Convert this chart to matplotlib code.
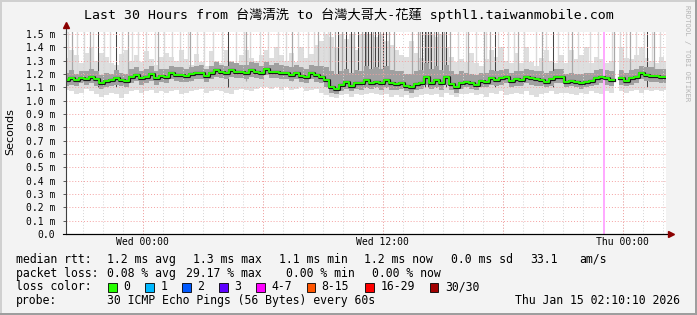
import numpy as np
import matplotlib.pyplot as plt
from matplotlib.patches import Rectangle

W, H = 697, 315

# 15 minute slots over the last 30 hours, values in ms
median = [1.155, 1.168, 1.155, 1.173, 1.16, 1.18, 1.16, 1.135, 1.15, 1.155, 1.168, 1.155, 1.15, 1.18, 1.193, 1.168, 1.18, 1.2, 1.168, 1.185,
          1.18, 1.205, 1.193, 1.193, 1.185, 1.198, 1.205, 1.205, 1.185, 1.205, 1.23, 1.218, 1.205, 1.23, 1.218, 1.218, 1.21, 1.23, 1.218, 1.205,
          1.235, 1.218, 1.218, 1.21, 1.205, 1.193, 1.21, 1.185, 1.18, 1.205, 1.193, 1.18, 1.155, 1.1, 1.085, 1.118, 1.143, 1.11, 1.135, 1.13,
          1.155, 1.135, 1.143, 1.13, 1.155, 1.13, 1.125, 1.13, 1.11, 1.105, 1.125, 1.135, 1.18, 1.135, 1.155, 1.13, 1.18, 1.125, 1.105, 1.13,
          1.143, 1.135, 1.118, 1.15, 1.143, 1.168, 1.155, 1.168, 1.18, 1.15, 1.16, 1.155, 1.18, 1.168, 1.16, 1.155, 1.143, 1.16, 1.18, 1.18,
          1.143, 1.15, 1.143, 1.135, 1.143, 1.15, 1.168, 1.18, 1.168, 1.155, np.nan, 1.168, 1.15, 1.168, 1.18, 1.205, 1.193, 1.185, 1.185, 1.18, 1.18]

lo = [1.08, 1.07, 1.05, 1.06, 1.09, 1.07, 1.05, 1.03, 1.04, 1.06, 1.05, 1.02, 1.05, 1.07, 1.08, 1.06, 1.07, 1.08, 1.06, 1.07,
      1.06, 1.07, 1.08, 1.05, 1.06, 1.07, 1.08, 1.09, 1.06, 1.07, 1.08, 1.07, 1.06, 1.05, 1.08, 1.09, 1.08, 1.07, 1.09, 1.1,
      1.1, 1.09, 1.1, 1.08, 1.1, 1.08, 1.09, 1.1, 1.07, 1.08, 1.09, 1.06, 1.04, 1.03, 1.02, 1.04, 1.05, 1.03, 1.05, 1.04,
      1.05, 1.06, 1.05, 1.04, 1.05, 1.03, 1.04, 1.03, 1.04, 1.02, 1.03, 1.04, 1.05, 1.04, 1.05, 1.03, 1.06, 1.04, 1.03, 1.05,
      1.05, 1.06, 1.04, 1.05, 1.03, 1.06, 1.05, 1.07, 1.04, 1.05, 1.06, 1.05, 1.07, 1.04, 1.03, 1.05, 1.06, 1.07, 1.05, 1.06,
      1.06, 1.05, 1.04, 1.06, 1.05, 1.07, 1.06, 1.05, 1.07, 1.06, np.nan, 1.07, 1.06, 1.07, 1.08, 1.06, 1.08, 1.07, 1.08, 1.07, 1.08]

p25 = [1.11, 1.12, 1.11, 1.13, 1.12, 1.13, 1.11, 1.09, 1.10, 1.11, 1.12, 1.11, 1.10, 1.13, 1.15, 1.12, 1.13, 1.15, 1.12, 1.14,
       1.13, 1.16, 1.15, 1.14, 1.14, 1.15, 1.16, 1.16, 1.14, 1.16, 1.18, 1.17, 1.16, 1.18, 1.17, 1.17, 1.16, 1.18, 1.17, 1.16,
       1.19, 1.17, 1.17, 1.16, 1.16, 1.15, 1.16, 1.14, 1.13, 1.16, 1.14, 1.13, 1.10, 1.06, 1.05, 1.07, 1.09, 1.07, 1.09, 1.08,
       1.10, 1.09, 1.10, 1.08, 1.10, 1.08, 1.08, 1.09, 1.07, 1.06, 1.08, 1.09, 1.12, 1.09, 1.10, 1.08, 1.12, 1.08, 1.06, 1.09,
       1.10, 1.09, 1.08, 1.10, 1.10, 1.12, 1.11, 1.12, 1.13, 1.10, 1.11, 1.11, 1.13, 1.12, 1.11, 1.11, 1.10, 1.11, 1.13, 1.13,
       1.10, 1.11, 1.10, 1.09, 1.10, 1.11, 1.12, 1.13, 1.12, 1.11, np.nan, 1.12, 1.11, 1.12, 1.13, 1.16, 1.15, 1.14, 1.14, 1.13, 1.13]

p75 = [1.21, 1.23, 1.20, 1.22, 1.22, 1.24, 1.22, 1.19, 1.21, 1.20, 1.23, 1.21, 1.20, 1.24, 1.25, 1.22, 1.24, 1.26, 1.22, 1.24,
       1.24, 1.26, 1.25, 1.25, 1.24, 1.25, 1.26, 1.27, 1.24, 1.26, 1.29, 1.27, 1.26, 1.29, 1.28, 1.27, 1.27, 1.29, 1.28, 1.26,
       1.29, 1.27, 1.28, 1.27, 1.26, 1.25, 1.27, 1.25, 1.24, 1.27, 1.26, 1.26, 1.25, 1.22, 1.20, 1.22, 1.24, 1.21, 1.23, 1.22,
       1.26, 1.24, 1.25, 1.24, 1.26, 1.23, 1.22, 1.22, 1.20, 1.20, 1.22, 1.23, 1.28, 1.24, 1.26, 1.23, 1.27, 1.22, 1.20, 1.22,
       1.21, 1.20, 1.19, 1.21, 1.21, 1.23, 1.22, 1.23, 1.24, 1.21, 1.22, 1.22, 1.24, 1.23, 1.22, 1.22, 1.21, 1.22, 1.24, 1.24,
       1.20, 1.21, 1.20, 1.20, 1.21, 1.21, 1.23, 1.24, 1.23, 1.22, np.nan, 1.23, 1.21, 1.23, 1.24, 1.26, 1.25, 1.25, 1.24, 1.24, 1.24]

hi = [1.32, 1.38, 1.34, 1.28, 1.36, 1.40, 1.30, 1.36, 1.33, 1.28, 1.27, 1.35, 1.38, 1.30, 1.34, 1.29, 1.37, 1.31, 1.27, 1.33,
      1.36, 1.33, 1.30, 1.38, 1.31, 1.27, 1.35, 1.29, 1.26, 1.37, 1.30, 1.28, 1.38, 1.30, 1.28, 1.34, 1.38, 1.32, 1.30, 1.34,
      1.38, 1.32, 1.40, 1.34, 1.30, 1.36, 1.29, 1.40, 1.32, 1.35, 1.42, 1.45, 1.50, 1.48, 1.40, 1.50, 1.46, 1.50, 1.38, 1.50,
      1.50, 1.50, 1.48, 1.50, 1.45, 1.42, 1.38, 1.34, 1.33, 1.45, 1.36, 1.32, 1.50, 1.50, 1.48, 1.50, 1.40, 1.33, 1.29, 1.31,
      1.29, 1.36, 1.28, 1.26, 1.31, 1.38, 1.33, 1.40, 1.30, 1.28, 1.36, 1.28, 1.40, 1.29, 1.26, 1.32, 1.38, 1.30, 1.28, 1.34,
      1.28, 1.38, 1.31, 1.34, 1.40, 1.28, 1.33, 1.31, 1.28, 1.30, np.nan, 1.40, 1.32, 1.31, 1.34, 1.40, 1.32, 1.30, 1.28, 1.33, 1.30]

# outliers reaching the top of the graph (hours since start)
dark_spikes = [1.6, 2.5, 8.1, 13.6, 14.0, 14.25, 14.6, 14.95, 15.1, 15.25, 15.45, 15.6, 15.85, 16.0,
               17.8, 17.95, 18.1, 18.25, 18.5, 18.8, 19.0, 21.45, 24.35, 29.05]
grey_spikes = [0.3, 1.2, 3.1, 4.6, 6.2, 9.0, 11.3, 12.6, 13.2, 13.45, 13.8, 14.4, 14.8, 15.0, 15.35, 15.7,
               16.15, 16.4, 17.3, 17.6, 17.7, 18.0, 18.2, 18.4, 18.6, 18.9, 19.2, 20.1, 20.9, 21.2, 22.6,
               23.8, 25.3, 27.4, 28.2, 29.4]
pale_spikes = [0.1, 0.55, 0.9, 1.35, 1.9, 2.2, 2.8, 3.3, 3.6, 4.0, 4.45, 4.9, 5.3, 5.7, 6.1, 6.55, 6.9,
               7.35, 7.8, 8.5, 8.9, 9.2, 9.7, 10.1, 10.6, 11.0, 11.6, 12.1, 12.4, 12.9, 13.1, 19.6, 20.0,
               20.5, 21.0, 21.6, 22.1, 22.4, 22.9, 23.5, 24.0, 24.6, 25.1, 25.6, 26.2, 26.6, 27.3, 27.7,
               28.0, 28.5, 28.9, 29.3, 29.7]
loss_hour = 26.92

start_clock = 20 + 10 / 60.0   # Tue 20:10
xtick_labels = ['Wed 00:00', 'Wed 12:00', 'Thu 00:00']
loss_labels = ['0', '1', '2', '3', '4-7', '8-15', '16-29', '30/30']
loss_colors = ['#26ff00', '#00b8ff', '#0059ff', '#5e00ff', '#ff00ff', '#ff5500', '#ff0000', '#a10000']

median = np.array(median, dtype=float)
lo = np.array(lo, dtype=float)
p25 = np.array(p25, dtype=float)
p75 = np.array(p75, dtype=float)
hi = np.array(hi, dtype=float)
hours = np.arange(len(median)) * 0.25
ok = ~np.isnan(lo)

mono = 'DejaVu Sans Mono'
fig = plt.figure(figsize=(W / 100, H / 100), dpi=100, facecolor='#f3f3f3')
ax = fig.add_axes([66 / W, (H - 234) / H, 600 / W, 202 / H])
ax.set_facecolor('white')
ax.set_xlim(0, 30)
ax.set_ylim(0, 1.515)

# smoke
ax.bar(hours[ok], (hi - lo)[ok], bottom=lo[ok], width=0.25, color='#dedede', linewidth=0, zorder=1)
ax.vlines(pale_spikes, 1.2, 1.52, colors='#dadada', lw=1.0, zorder=1.1)
ax.vlines(grey_spikes, 1.15, 1.52, colors='#a8a8a8', lw=0.9, zorder=1.2)
ax.vlines(dark_spikes, 1.1, 1.52, colors='#454545', lw=0.75, zorder=1.3)
ax.bar(hours[ok], (p75 - p25)[ok], bottom=p25[ok], width=0.25, color='#a0a0a0', linewidth=0, zorder=1.5)

# grid
first_hour = np.ceil(start_clock) - start_clock
for h in np.arange(first_hour, 30, 1.0):
    ax.axvline(h, color='#d4d4d4', lw=0.7, ls=(0, (1, 2)), zorder=1.7)
major = np.arange(24 - start_clock - 6 * 3, 30, 6.0)
major = major[major > 0]
for h in major:
    ax.axvline(h, color='#f4a0a0', lw=0.7, ls=(0, (1, 2)), zorder=1.8)
yticks = np.round(np.arange(0, 1.51, 0.1), 1)
for v in yticks[1:]:
    ax.axhline(v, color='#f4a0a0', lw=0.7, ls=(0, (1, 2)), zorder=1.8)

ax.axvspan(loss_hour - 0.05, loss_hour + 0.05, color='#ffaaff', lw=0, zorder=1.9)

# median rtt
ax.step(hours, median, where='mid', color='#1a1a1a', lw=2.3, zorder=2)
ax.step(hours, median, where='mid', color='#26ff00', lw=1.4, zorder=2.1)

# axes
for s in ['top', 'right']:
    ax.spines[s].set_visible(False)
ax.spines['left'].set_color('#404040')
ax.spines['left'].set_linewidth(0.8)
ax.spines['bottom'].set_color('black')
ax.spines['bottom'].set_linewidth(0.8)
ax.plot([0, 0], [1.0, 1.02], transform=ax.transAxes, color='#404040', lw=0.8, clip_on=False)
ax.plot([-0.005, 1.005], [0, 0], transform=ax.transAxes, color='black', lw=0.8, clip_on=False)
ax.plot([0], [1.035], transform=ax.transAxes, marker='^', ms=4.5, color='#8b0000', clip_on=False)
ax.plot([1.008], [0], transform=ax.transAxes, marker='>', ms=4.5, color='#8b0000', clip_on=False)

ax.set_yticks(yticks)
ax.set_yticklabels(['0.0' if v == 0 else '%.1f m' % v for v in yticks], family=mono, fontsize=7)
wed0 = 24 - start_clock
ax.set_xticks([wed0, wed0 + 12, wed0 + 24])
ax.set_xticklabels(xtick_labels, family=mono, fontsize=7)
ax.tick_params(axis='y', length=2, width=0.6, pad=6, color='#404040')
ax.tick_params(axis='x', length=0, pad=2)


def ftext(x, y, s, **kw):
    kw.setdefault('family', mono)
    kw.setdefault('fontsize', 8.3)
    kw.setdefault('va', 'baseline')
    return fig.text(x / W, 1 - y / H, s, **kw)


ftext(348.5, 19, 'Last 30 Hours from 台灣清洗 to 台灣大哥大-花蓮 spthl1.taiwanmobile.com',
      ha='center', fontsize=9.5, family=[mono, 'Noto Sans CJK TC'])
ftext(10, 132, 'Seconds', rotation=90, ha='center', va='center', fontsize=8, family='DejaVu Sans')
ftext(687, 5, 'RRDTOOL / TOBI OETIKER', rotation=270, ha='center', va='top', fontsize=5.2, color='#b4b4b4')

rows = [
    (262.7, [(16, 'median rtt:'), (107, '1.2 ms avg'), (193, '1.3 ms max'), (279, '1.1 ms min'),
             (364, '1.2 ms now'), (451, '0.0 ms sd'), (530, '33.1'), (579, 'am/s')]),
    (276.7, [(16, 'packet loss:'), (107, '0.08 % avg'), (186.5, '29.17 % max'), (285.5, '0.00 % min'),
             (371.5, '0.00 % now')]),
    (304.3, [(16, 'probe:'), (107, '30 ICMP Echo Pings (56 Bytes) every 60s')]),
]
for y, items in rows:
    for x, s in items:
        ftext(x, y, s)
ftext(680, 304.3, 'Thu Jan 15 02:10:10 2026', ha='right')

ftext(16, 290, 'loss color:')
box_x = [108, 145.3, 182.2, 219.1, 256.4, 306.7, 365.3, 429.8]
for bx, lab, col in zip(box_x, loss_labels, loss_colors):
    fig.add_artist(Rectangle((bx / W, 1 - 291.5 / H), 8.5 / W, 8.5 / H, transform=fig.transFigure,
                             facecolor=col, edgecolor='black', lw=0.6))
    ftext(bx + 15, 290, lab)

# 3d frame
fig.add_artist(Rectangle((0, 1 - 2 / H), 1, 2 / H, transform=fig.transFigure, color='#d0d0d0', lw=0))
fig.add_artist(Rectangle((0, 0), 2 / W, 1, transform=fig.transFigure, color='#d0d0d0', lw=0))
fig.add_artist(Rectangle((0, 0), 1, 2 / H, transform=fig.transFigure, color='#9e9e9e', lw=0))
fig.add_artist(Rectangle((1 - 2 / W, 0), 2 / W, 1, transform=fig.transFigure, color='#9e9e9e', lw=0))

fig.savefig('out.png', dpi=100, facecolor=fig.get_facecolor())
